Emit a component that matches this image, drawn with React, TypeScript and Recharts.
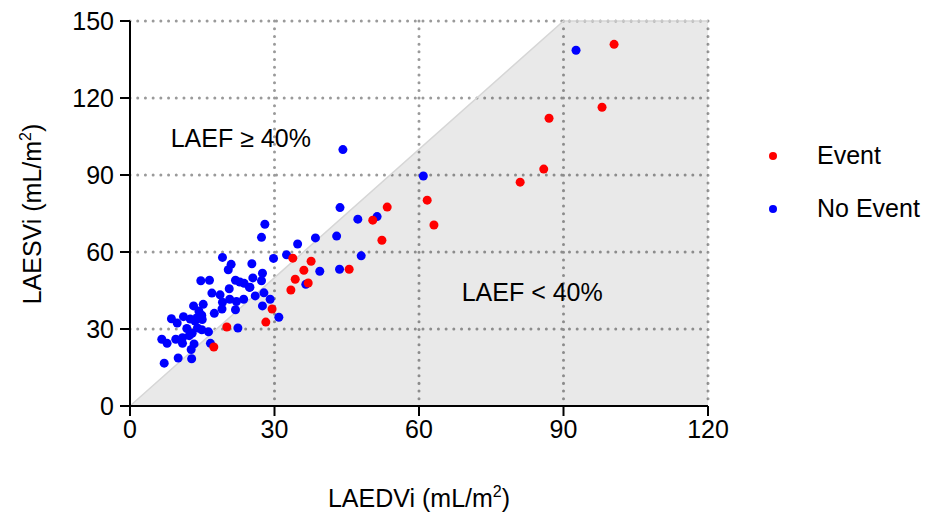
import { ComposedChart, Area, Scatter, XAxis, YAxis, CartesianGrid, ReferenceDot } from 'recharts'

const RED = '#ff0000'
const BLUE = '#0000ff'
const FONT = '"Liberation Sans", Arial, sans-serif'

const xTicks = [0, 30, 60, 90, 120]
const yTicks = [0, 30, 60, 90, 120, 150]

// boundary of the shaded LAEF < 40% region
const boundaryEDV = [0, 90, 120]
const boundaryESV = [0, 150, 150]

const eventEDV = [100.5, 98, 87, 85.9, 81, 61.7, 63.1, 53.4, 50.4, 52.3, 45.5, 37.6, 36.1, 33.8, 34.3, 37, 33.4, 29.5, 28.2, 20.1, 17.4]
const eventESV = [140.9, 116.4, 112.1, 92.3, 87.2, 80.2, 70.5, 77.5, 72.4, 64.6, 53.3, 56.4, 52.9, 57.6, 49.4, 47.9, 45.2, 37.8, 32.7, 30.8, 23]

const noEventEDV = [
  92.6, 44.2, 60.9, 43.6, 47.3, 51.3, 42.9, 38.5, 34.8, 28, 27.3, 32.5, 29.8, 48, 39.4, 43.5, 36.5, 25.3, 25.5, 27.5,
  27.3, 24.9, 26, 27.8, 27.5, 29.1, 19.2, 21, 20.4, 14.7, 16.5, 21.9, 22.8, 23.7, 24.8, 20.6, 17, 18.7, 23.6, 20.7,
  22.1, 19.2, 13.2, 15.2, 19.1, 21.9, 17.5, 14.3, 14.9, 13.9, 12.5, 11.1, 8.6, 9.8, 13.5, 15, 14, 14.9, 16.3, 12.9,
  12.3, 10.9, 9.5, 6.6, 7.7, 10.9, 13.3, 12.7, 16.7, 22.4, 7.1, 10, 12.8, 30.9, 11.8,
]
const noEventESV = [
  138.6, 99.9, 89.6, 77.3, 72.8, 73.8, 66.2, 65.5, 63.1, 70.8, 65.7, 58.9, 57.5, 58.5, 52.5, 53.3, 47.4, 55.4, 49.9, 51.7,
  48.8, 46.3, 42.9, 44.1, 39, 41.6, 57.9, 55.2, 53.1, 48.8, 49, 49, 48.3, 47.8, 46.2, 45.7, 44, 43.3, 41.6, 41.6,
  40.7, 40.4, 39, 39.6, 37.8, 37.5, 36.1, 37, 35.4, 34.4, 33.9, 34.8, 34, 32.3, 33.1, 33.7, 30.4, 29.7, 28.9, 28.3,
  27.4, 26.6, 26, 26, 24.4, 24.4, 24.2, 22, 24.4, 30.4, 16.7, 18.7, 18.4, 34.6, 30.2,
]

const zip = (xs: number[], ys: number[]) => xs.map((x, i) => ({ x, y: ys[i] }))

const boundary = zip(boundaryEDV, boundaryESV)
const events = zip(eventEDV, eventESV)
const noEvents = zip(noEventEDV, noEventESV)

const XTitle = ({ viewBox }: any) => (
  <text x={viewBox.x + viewBox.width / 2} y={viewBox.y + 101} textAnchor="middle" fontSize={25} fontFamily={FONT} fill="#000">
    LAEDVi (mL/m<tspan dy={-10} fontSize={16}>2</tspan><tspan dy={10}>)</tspan>
  </text>
)

const YTitle = () => (
  <text x={0} y={0} transform="translate(41, 214) rotate(-90)" textAnchor="middle" fontSize={25} fontFamily={FONT} fill="#000">
    LAESVi (mL/m<tspan dy={-10} fontSize={16}>2</tspan><tspan dy={10}>)</tspan>
  </text>
)

const legendItems = [
  { name: 'Event', color: RED },
  { name: 'No Event', color: BLUE },
]

const tick = { fontSize: 25, fontFamily: FONT, fill: '#000' }

export default function App() {
  return (
    <div style={{ position: 'absolute', left: 0, top: 0, width: 931, height: 517, background: '#fff' }}>
      <ComposedChart width={931} height={517} data={boundary} margin={{ top: 21, right: 223, bottom: 0, left: 0 }}>
        <Area
          type="linear"
          dataKey="y"
          fill="#000"
          fillOpacity={0.085}
          stroke="#d6d6d6"
          strokeWidth={1.5}
          dot={false}
          activeDot={false}
          isAnimationActive={false}
        />
        <CartesianGrid
          stroke="#9a9a9a"
          strokeWidth={3}
          strokeDasharray="0.01 7.7"
          strokeLinecap="round"
          horizontalValues={[30, 60, 90, 120, 150]}
          verticalValues={[30, 60, 90, 120]}
        />
        <XAxis
          type="number"
          dataKey="x"
          domain={[0, 120]}
          ticks={xTicks}
          height={111}
          tick={tick}
          tickSize={10}
          tickMargin={4}
          axisLine={{ stroke: '#000', strokeWidth: 2 }}
          tickLine={{ stroke: '#000', strokeWidth: 2 }}
          label={{ content: XTitle }}
        />
        <YAxis
          type="number"
          dataKey="y"
          domain={[0, 150]}
          ticks={yTicks}
          width={130}
          tick={tick}
          tickSize={10}
          tickMargin={6}
          axisLine={{ stroke: '#000', strokeWidth: 2 }}
          tickLine={{ stroke: '#000', strokeWidth: 2 }}
          label={{ content: YTitle }}
        />
        <Scatter name="No Event" data={noEvents} dataKey="y" fill={BLUE} shape={(p: any) => <circle cx={p.cx} cy={p.cy} r={4.5} fill={BLUE} />} isAnimationActive={false} />
        <Scatter name="Event" data={events} dataKey="y" fill={RED} shape={(p: any) => <circle cx={p.cx} cy={p.cy} r={4.5} fill={RED} />} isAnimationActive={false} />
        <ReferenceDot
          x={23}
          y={104.5}
          r={0}
          fill="none"
          stroke="none"
          label={{ value: 'LAEF ≥ 40%', position: 'center', fontSize: 25, fontFamily: FONT, fill: '#000' }}
        />
        <ReferenceDot
          x={83.5}
          y={44.2}
          r={0}
          fill="none"
          stroke="none"
          label={{ value: 'LAEF < 40%', position: 'center', fontSize: 25, fontFamily: FONT, fill: '#000' }}
        />
      </ComposedChart>
      <div style={{ position: 'absolute', left: 760, top: 129, fontFamily: FONT, fontSize: 25, color: '#000' }}>
        {legendItems.map((it) => (
          <div key={it.name} style={{ display: 'flex', alignItems: 'center', height: 53 }}>
            <span style={{ display: 'inline-block', width: 8, height: 8, borderRadius: 4, background: it.color, marginLeft: 9, marginRight: 40 }} />
            <span>{it.name}</span>
          </div>
        ))}
      </div>
    </div>
  )
}
